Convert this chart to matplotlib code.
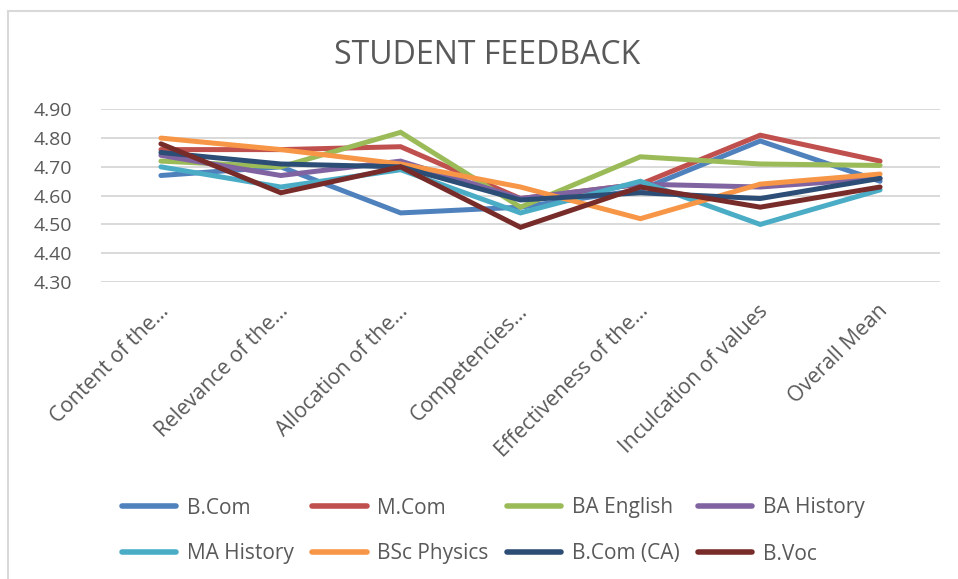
import matplotlib.pyplot as plt
import matplotlib.patches as patches
import matplotlib.transforms as mtransforms

# Feedback categories (labels truncated as in the source chart)
categories = ["Content of the...", "Relevance of the...", "Allocation of the...",
              "Competencies...", "Effectiveness of the...", "Inculcation of values",
              "Overall Mean"]

programmes = ["B.Com", "M.Com", "BA English", "BA History",
              "MA History", "BSc Physics", "B.Com (CA)", "B.Voc"]

bcom = [4.67, 4.70, 4.54, 4.56, 4.62, 4.79, 4.65]
mcom = [4.76, 4.76, 4.77, 4.59, 4.64, 4.81, 4.72]
ba_english = [4.72, 4.70, 4.82, 4.56, 4.735, 4.71, 4.705]
ba_history = [4.74, 4.67, 4.72, 4.59, 4.64, 4.63, 4.66]
ma_history = [4.70, 4.63, 4.69, 4.54, 4.65, 4.50, 4.62]
bsc_physics = [4.80, 4.76, 4.71, 4.63, 4.52, 4.64, 4.675]
bcom_ca = [4.75, 4.71, 4.70, 4.585, 4.61, 4.59, 4.66]
bvoc = [4.78, 4.61, 4.70, 4.49, 4.63, 4.56, 4.63]

series = [bcom, mcom, ba_english, ba_history, ma_history, bsc_physics, bcom_ca, bvoc]
colors = ['#4F81BD', '#C0504D', '#9BBB59', '#8064A2',
          '#4BACC6', '#F79646', '#2C4D75', '#772C2A']

yticks = [4.30, 4.40, 4.50, 4.60, 4.70, 4.80, 4.90]

plt.rcParams['font.family'] = ['Open Sans', 'DejaVu Sans']
text_color = '#595959'

fig = plt.figure(figsize=(9.58, 5.79), dpi=100)
ax = fig.add_axes([101 / 958, 1 - 282 / 579, 839 / 958, 172.7 / 579])

x = list(range(len(categories)))
handles = []
for vals, name, col in zip(series, programmes, colors):
    h, = ax.plot(x, vals, color=col, lw=3.6, label=name, solid_capstyle='round',
                 solid_joinstyle='miter', zorder=3)
    handles.append(h)

ax.set_xlim(-0.5, len(categories) - 0.5)
ax.set_ylim(4.30, 4.90)
ax.set_yticks(yticks)
ax.set_yticklabels([f"{v:.2f}" for v in yticks], fontsize=14, color=text_color)
ax.set_xticks(x)
ax.set_xticklabels(categories, rotation=45, ha='right', rotation_mode='anchor',
                   fontsize=15.2, color=text_color)
ax.tick_params(axis='both', length=0)
ax.tick_params(axis='y', pad=21)
ax.tick_params(axis='x', pad=12)
# nudge category labels a little to the left
shift = mtransforms.ScaledTranslation(-3 / 100, -2 / 100, fig.dpi_scale_trans)
for lbl in ax.get_xticklabels():
    lbl.set_transform(lbl.get_transform() + shift)
ax.grid(axis='y', color='#D9D9D9', lw=1.4, zorder=0)
for s in ax.spines.values():
    s.set_visible(False)

fig.text(0.508, 1 - 55 / 579, "STUDENT FEEDBACK", ha='center', va='center',
         fontsize=23, color=text_color)

# legend rows are filled left to right in the source, so reorder for column fill
order = [0, 4, 1, 5, 2, 6, 3, 7]
leg = fig.legend([handles[i] for i in order], [programmes[i] for i in order],
                 ncol=4, loc='center', bbox_to_anchor=(0.515, 1 - 531 / 579),
                 frameon=False, fontsize=15, handlelength=2.6, handletextpad=0.5,
                 columnspacing=0.9, labelspacing=1.2)
for t in leg.get_texts():
    t.set_color(text_color)
for h in leg.legend_handles:
    h.set_linewidth(4.0)

# chart area border (only top and left edges are visible in the crop)
border = patches.Rectangle((8 / 958, -0.1), 1.2, 1 - 11 / 579 + 0.1,
                           transform=fig.transFigure, fill=False,
                           edgecolor='#D9D9D9', lw=1.5)
fig.patches.append(border)

fig.savefig("out.png", dpi=100, facecolor='white')
